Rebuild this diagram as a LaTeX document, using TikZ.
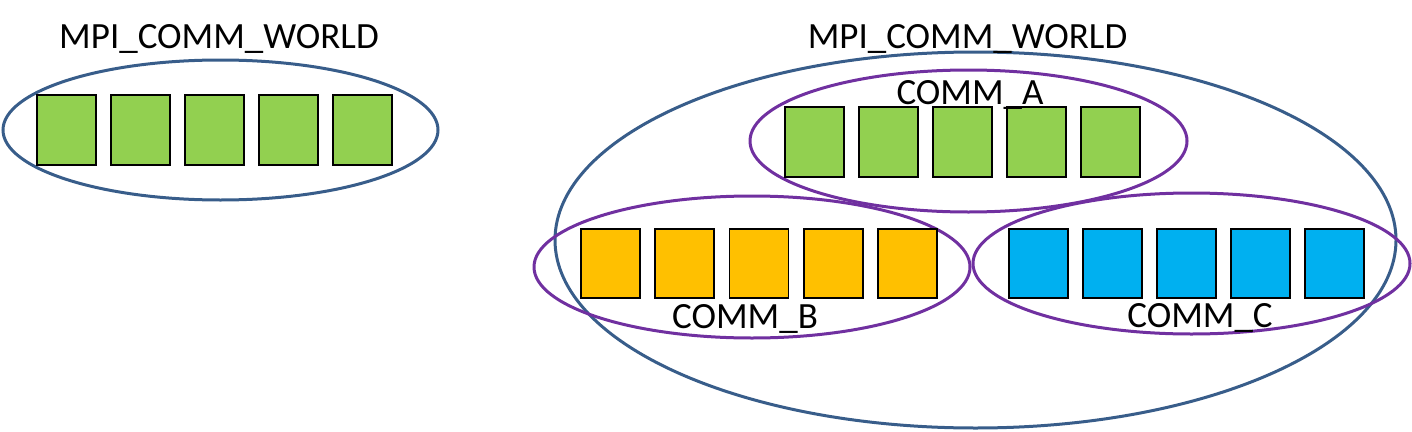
\documentclass[tikz,border=0pt]{standalone}
\usepackage{fontspec}
\setmainfont{Carlito}
\definecolor{worldblue}{HTML}{385D8A}
\definecolor{commpurple}{HTML}{7030A0}
\definecolor{pgreen}{HTML}{92D050}
\definecolor{porange}{HTML}{FFC000}
\definecolor{pblue}{HTML}{00B0F0}
\begin{document}
\begin{tikzpicture}[x=1pt,y=-1pt,
  worldell/.style={draw=worldblue,line width=3pt},
  commell/.style={draw=commpurple,line width=3pt},
  proc/.style={draw=black,line width=1.8pt,minimum width=59pt,minimum height=70pt,inner sep=0pt},
  lbl/.style={anchor=base,inner sep=0pt,font=\fontsize{37}{44}\selectfont}]
\useasboundingbox (0,0) rectangle (1412,431);
% left world
\draw[worldell] (220.5,130) ellipse [x radius=217.5,y radius=70];
\foreach \i in {0,...,4}{
  \node[proc,fill=pgreen] (w\i) at (66.5+74*\i,130) {};
}
\node[lbl] (lw) at (219,48) {MPI\_COMM\_WORLD};
% right world
\draw[worldell] (975.5,240) ellipse [x radius=420.5,y radius=188];
\draw[commell] (968.5,141) ellipse [x radius=218.5,y radius=71];
\draw[commell] (752,267) ellipse [x radius=218,y radius=71];
\draw[commell] (1191.5,263.5) ellipse [x radius=218.5,y radius=70.5];
\foreach \i in {0,...,4}{
  \node[proc,fill=pgreen] (a\i) at (814.5+74*\i,142) {};
  \node[proc,fill=porange,minimum height=69pt] (b\i) at (610.5+74.2*\i,263.5) {};
  \node[proc,fill=pblue,minimum height=69pt] (c\i) at (1038.5+74*\i,263.5) {};
}
\node[lbl] (rw) at (967.5,48) {MPI\_COMM\_WORLD};
\node[lbl] (la) at (970,104) {COMM\_A};
\node[lbl] (lb) at (745,328) {COMM\_B};
\node[lbl] (lc) at (1200,327) {COMM\_C};
\end{tikzpicture}
\end{document}
